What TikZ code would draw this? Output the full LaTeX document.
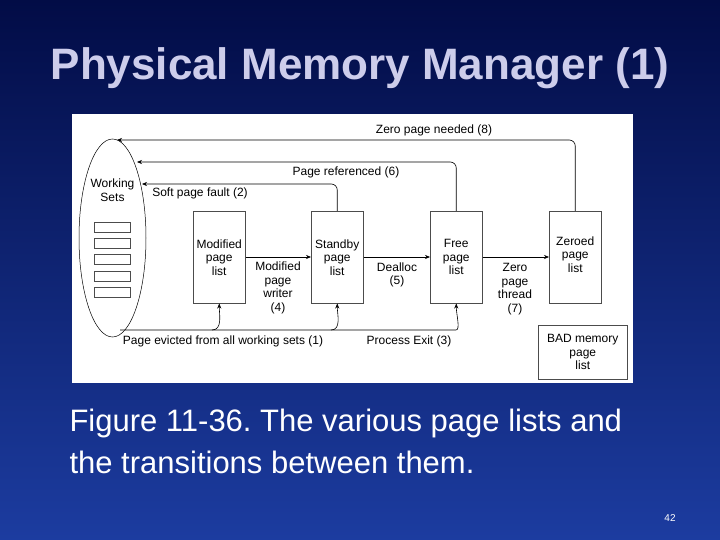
\documentclass[tikz,border=0pt]{standalone}
\usepackage{fontspec}
\setmainfont{Liberation Sans}
\usetikzlibrary{arrows.meta}
\definecolor{bgtop}{RGB}{2,12,70}
\definecolor{bgbot}{RGB}{28,60,160}
\definecolor{titlec}{RGB}{205,205,235}
\frenchspacing
\begin{document}
\begin{tikzpicture}[x=1pt,y=-1pt,
  box/.style={draw=black!70,fill=white,line width=0.5pt,inner sep=0pt},
  lbl/.style={font=\fontsize{12}{13.5}\selectfont,align=center,text=black,inner sep=0pt},
  arr/.style={-{Stealth[length=5pt,width=4pt]},line width=0.6pt,rounded corners=6pt}]
\shade[top color=bgtop,bottom color=bgbot] (0,0) rectangle (720,540);
\useasboundingbox (0,0) rectangle (720,540);
\node[text=titlec,font=\bfseries\fontsize{44}{50}\selectfont] (title) at (360,68) {Physical Memory Manager (1)};
\fill[white] (72,114) rectangle (633,383);
\draw[line width=0.5pt] (112.5,238) ellipse [x radius=33.5,y radius=99];
\node[lbl] (ws) at (112.5,190) {Working\\Sets};
\foreach \y/\n in {222/r1,238/r2,254/r3,271/r4,287/r5}
  \node[box,minimum width=36pt,minimum height=10pt,anchor=north west] (\n) at (94,\y) {};
\node[box,minimum width=52pt,minimum height=92pt,anchor=north west] (mod) at (193,211) {};
\node[box,minimum width=52pt,minimum height=92pt,anchor=north west] (stb) at (311,211) {};
\node[box,minimum width=52pt,minimum height=92pt,anchor=north west] (fre) at (430,211) {};
\node[box,minimum width=52pt,minimum height=92pt,anchor=north west] (zer) at (549,211) {};
\node[box,minimum width=89pt,minimum height=54pt,anchor=north west] (bad) at (538,325) {};
\node[lbl] at (mod.center) {Modified\\page\\list};
\node[lbl] at (stb.center) {Standby\\page\\list};
\node[lbl] at (fre.center) {Free\\page\\list};
\node[lbl] at ([yshift=3pt]zer.center) {Zeroed\\page\\list};
\node[lbl] at (bad.center) {BAD memory\\page\\list};
\draw[arr] (mod.east |- 0,257) -- (stb.west |- 0,257);
\draw[arr] (stb.east |- 0,257) -- (fre.west |- 0,257);
\draw[arr] (fre.east |- 0,257) -- (zer.west |- 0,257);
\node[lbl] at (278,288) {Modified\\page\\writer\\(4)};
\node[lbl] at (397,275) {Dealloc\\(5)};
\node[lbl] at (515,289) {Zero\\page\\thread\\(7)};
\coordinate (e8) at (117,140);
\coordinate (e6) at (137,162);
\coordinate (e2) at (142,184);
\draw[arr] (zer.north) |- (e8);
\draw[arr] (fre.north) |- (e6);
\draw[arr] (stb.north) |- (e2);
\node[lbl] at (434,130) {Zero page needed (8)};
\node[lbl] at (346,172) {Page referenced (6)};
\node[lbl] at (200,193) {Soft page fault (2)};
\coordinate (ebot) at (120,330);
\draw[arr] (ebot) -- (450,330) to[out=0,in=-90] (fre.south);
\draw[arr] (212,330) to[out=0,in=-90] (mod.south);
\draw[arr] (331,330) to[out=0,in=-90] (stb.south);
\node[lbl] at (223,341) {Page evicted from all working sets (1)};
\node[lbl] at (409,341) {Process Exit (3)};
\node[anchor=west,text=white,font=\fontsize{31}{42}\selectfont,align=left] (cap) at (66,441) {Figure 11-36. The various page lists and\\the transitions between them.};
\node[text=white,font=\fontsize{10}{12}\selectfont] (pg) at (670,518) {42};
\end{tikzpicture}
\end{document}
